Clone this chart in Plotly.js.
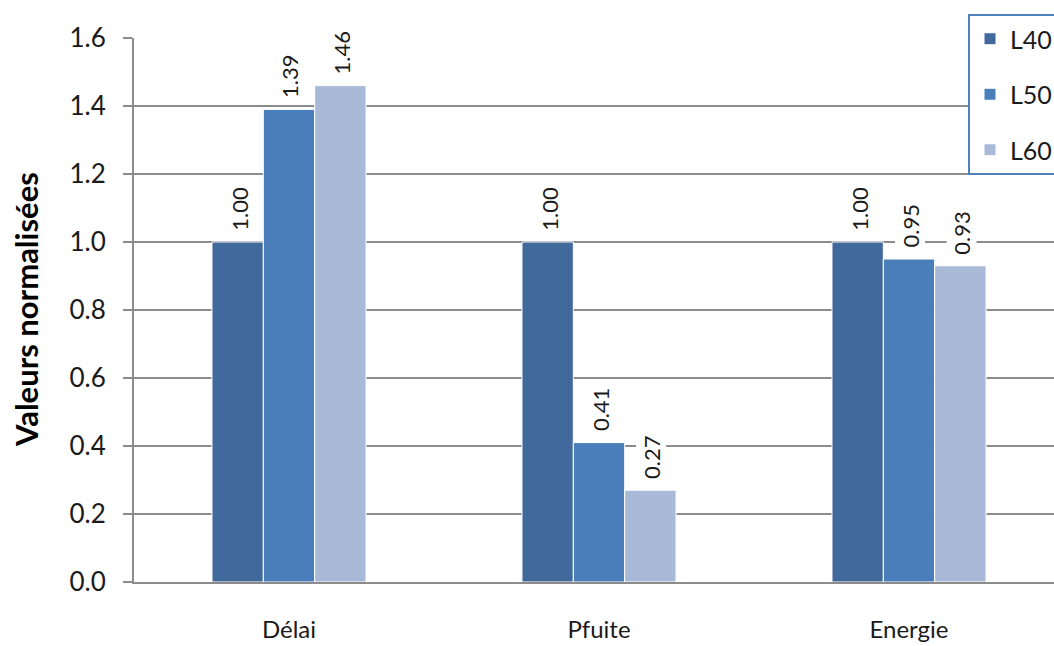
<!DOCTYPE html>
<html>
<head>
<meta charset="utf-8">
<script src="https://cdn.plot.ly/plotly-3.0.1.min.js"></script>
<style>
html,body{margin:0;padding:0;overflow:hidden;background:#fff;width:1054px;height:646px;}
#chart{width:1080px;height:646px;}
</style>
</head>
<body>
<div id="chart"></div>
<script>
const categories = ["Délai", "Pfuite", "Energie"];
const seriesNames = ["L40", "L50", "L60"];
const L40 = [1.00, 1.00, 1.00];
const L50 = [1.39, 0.41, 0.95];
const L60 = [1.46, 0.27, 0.93];
const yTicks = [0, 0.2, 0.4, 0.6, 0.8, 1.0, 1.2, 1.4, 1.6];
const yTitle = "Valeurs normalisées";

const seriesValues = [L40, L50, L60];
const colors = ["#41699b", "#4a7ebb", "#a9b9d8"];

const figW = 1080, figH = 646;
const margin = {l: 134, r: 16, t: 38, b: 64};
const bargap = 0.503;
const plotW = figW - margin.l - margin.r;
const plotH = figH - margin.t - margin.b;
const catW = plotW / categories.length;
const barW = catW * (1 - bargap) / seriesValues.length;

const font = "Lato, 'Open Sans', sans-serif";

const traces = seriesValues.map((vals, i) => ({
  type: "bar",
  name: seriesNames[i],
  x: categories,
  y: vals,
  legendgroup: seriesNames[i],
  marker: {color: colors[i], line: {color: "#ffffff", width: 1}},
  hoverinfo: "skip"
}));

const annotations = [];
seriesValues.forEach((vals, i) => {
  vals.forEach((v, j) => {
    annotations.push({
      x: categories[j], y: v, xref: "x", yref: "y",
      text: v.toFixed(2), showarrow: false, textangle: -90,
      xanchor: "center", yanchor: "bottom",
      xshift: (i - 1) * barW + 1, yshift: 9,
      bgcolor: "#ffffff", borderpad: 1,
      font: {family: font, size: 22, color: "#1a1a1a"}
    });
  });
});

annotations.push({
  xref: "paper", yref: "paper", x: -(margin.l - 26) / plotW, y: 0.5,
  xanchor: "center", yanchor: "middle", showarrow: false, textangle: -90,
  text: "<b>" + yTitle + "</b>",
  font: {family: font, size: 31, color: "#000000"}
});

const layout = {
  width: figW, height: figH, margin: margin,
  paper_bgcolor: "#ffffff", plot_bgcolor: "#ffffff",
  barmode: "group", bargap: bargap, bargroupgap: 0,
  font: {family: font, color: "#1a1a1a"},
  showlegend: true,
  legend: {
    x: (968 - margin.l) / plotW, y: 1 + (38 - 14) / plotH,
    xanchor: "left", yanchor: "top",
    bordercolor: "#4f81bd", borderwidth: 2, bgcolor: "#ffffff",
    font: {family: font, size: 25, color: "#1a1a1a"},
    tracegroupgap: 20, itemwidth: 30
  },
  xaxis: {
    type: "category", showgrid: false, showline: true, linecolor: "#8c8c8c", linewidth: 2,
    ticks: "", tickfont: {family: font, size: 24, color: "#1a1a1a"},
    ticklabelstandoff: 25, fixedrange: true
  },
  yaxis: {
    range: [0, 1.6], tickvals: yTicks, ticktext: yTicks.map(v => v.toFixed(1)),
    showgrid: true, gridcolor: "#8c8c8c", gridwidth: 1.5,
    showline: true, linecolor: "#8c8c8c", linewidth: 2,
    ticks: "outside", ticklen: 9, tickcolor: "#8c8c8c", tickwidth: 1.5,
    tickfont: {family: font, size: 26, color: "#1a1a1a"},
    ticklabelstandoff: 12, zeroline: false,
    fixedrange: true
  },
  annotations: annotations
};

Plotly.newPlot("chart", traces, layout, {displayModeBar: false, staticPlot: true});
</script>
</body>
</html>
